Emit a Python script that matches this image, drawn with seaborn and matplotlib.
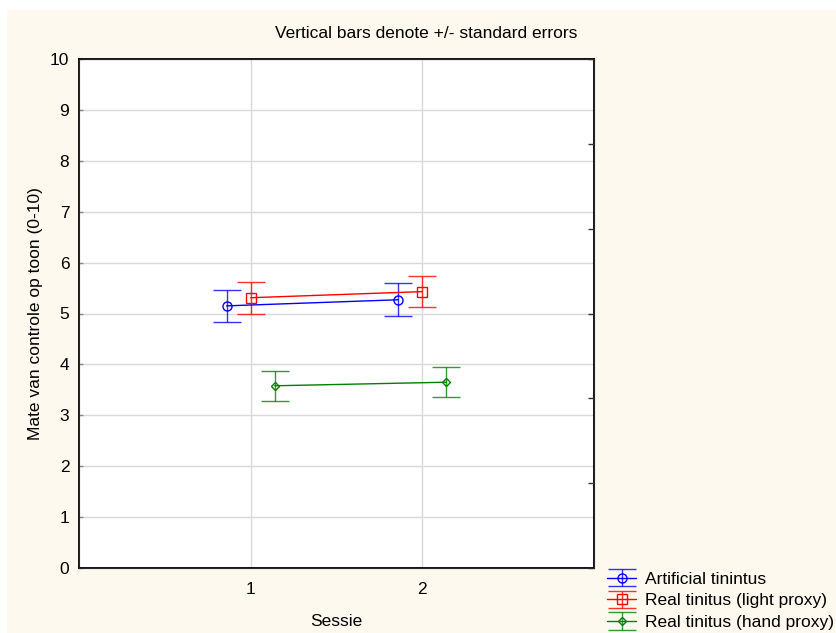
import numpy as np
import pandas as pd
import seaborn as sns
import matplotlib
matplotlib.use("Agg")
import matplotlib.pyplot as plt
from matplotlib.patches import Rectangle

# data
sessions = [1, 2]
groups = ["Artificial tinintus", "Real tinitus (light proxy)", "Real tinitus (hand proxy)"]
means_artificial = [5.15, 5.27]
means_light = [5.31, 5.43]
means_hand = [3.58, 3.65]
se_artificial = [0.31, 0.32]
se_light = [0.31, 0.31]
se_hand = [0.30, 0.30]

colors = ["#0000FF", "#FF0000", "#008000"]
markers = ["o", "s", "D"]
marker_sizes = [6.5, 6.5, 4.5]
offsets = [-0.14, 0.0, 0.14]

means = [means_artificial, means_light, means_hand]
ses = [se_artificial, se_light, se_hand]

rows = []
for g, m, s, off in zip(groups, means, ses, offsets):
    for sess, mv, sv in zip(sessions, m, s):
        rows.append({"group": g, "Sessie": sess, "xpos": sess + off, "mean": mv, "se": sv})
df = pd.DataFrame(rows)

sns.set_style("white")
plt.rcParams["font.family"] = ["Liberation Sans", "DejaVu Sans"]
plt.rcParams["text.color"] = "black"
plt.rcParams["axes.labelcolor"] = "black"

fig = plt.figure(figsize=(8.37, 6.33), dpi=100)
fig.patch.set_facecolor("white")
fig.patches.append(Rectangle((7 / 837, 0), 1, 1 - 10 / 633, transform=fig.transFigure,
                             facecolor="#FEF9EF", edgecolor="none", zorder=-10))

ax = fig.add_axes([79 / 837, 1 - 568 / 633, (594 - 79) / 837, (568 - 59) / 633])
ax.set_facecolor("white")

sns.lineplot(data=df, x="xpos", y="mean", hue="group", style="group",
             palette=dict(zip(groups, colors)), markers=dict(zip(groups, markers)),
             dashes=False, legend=False, linewidth=1, markerfacecolor="none", ax=ax)

sns_lines = list(ax.lines)
for line, c, ms in zip(sns_lines, colors, marker_sizes):
    line.set_markeredgecolor(c)
    line.set_markerfacecolor("none")
    line.set_markersize(ms)
    line.set_markeredgewidth(1)
    line.set_zorder(4)

handles = []
for g, c, line in zip(groups, colors, sns_lines):
    sub = df[df["group"] == g]
    eb = ax.errorbar(sub["xpos"], sub["mean"], yerr=sub["se"], fmt="none",
                     ecolor=c, elinewidth=1, capsize=10, capthick=1, alpha=0.8, zorder=3)
    handles.append((line, eb))

ax.set_xlim(0, 3)
ax.set_ylim(0, 10)
ax.set_xticks(sessions)
ax.set_xticklabels([str(s) for s in sessions])
ax.set_yticks(range(0, 11))
ax.grid(True, color="#D9D9D9", linewidth=1)
ax.set_axisbelow(True)
ax.tick_params(axis="both", direction="in", length=3, width=1, color="#888888",
               labelsize=12.5, labelcolor="black", pad=7)
ax.tick_params(axis="x", pad=10)
for sp in ax.spines.values():
    sp.set_visible(True)
    sp.set_color("black")
    sp.set_linewidth(1.3)

ax.set_xlabel("Sessie", fontsize=12.5, labelpad=12)
ax.set_ylabel("Mate van controle op toon (0-10)", fontsize=12.5, labelpad=5)

# right-hand axis with its own inward ticks, no labels
ax2 = ax.twinx()
ax2.set_ylim(0, 6)
ax2.set_yticks(range(0, 7))
ax2.set_yticklabels([])
ax2.tick_params(axis="y", direction="in", length=4, width=1, color="#333333")
ax2.grid(False)

fig.text(0.509, 1 - 33 / 633, "Vertical bars denote +/- standard errors",
         ha="center", va="center", fontsize=12.5)

fig.legend(handles=handles, labels=groups, loc="lower left",
           bbox_to_anchor=(603.5 / 837, -0.001), frameon=False, fontsize=12.5,
           handlelength=1.7, handletextpad=0.5, labelspacing=0.38,
           borderpad=0.2, borderaxespad=0, numpoints=1)

fig.savefig("out.png", dpi=100, facecolor=fig.get_facecolor())
